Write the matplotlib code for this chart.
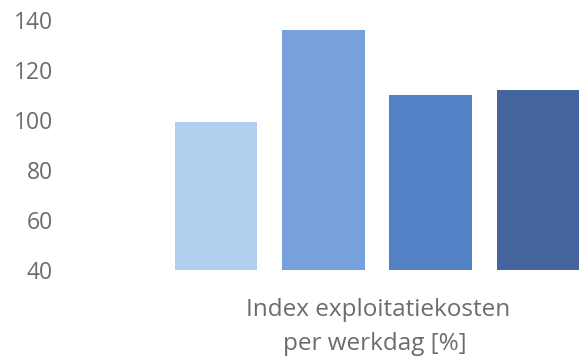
import matplotlib
matplotlib.use("Agg")
import matplotlib.pyplot as plt

categories = ["A", "B", "C", "D"]
values = [99, 136, 110, 112]
colors = ["#b3cff0", "#77a0dc", "#5381c6", "#44659e"]
yticks = [40, 60, 80, 100, 120, 140]
xlabel_lines = ["Index exploitatiekosten", "per werkdag [%]"]

W, H = 582, 361
fig = plt.figure(figsize=(W / 100, H / 100), dpi=100)
ax = fig.add_axes([60 / W, 91 / H, (582 - 60) / W, 250 / H])

x = list(range(len(categories)))
ax.bar(x, [v - 40 for v in values], bottom=40, width=0.77, color=colors)
ax.set_xlim(-1.454, 3.41)
ax.set_ylim(40, 140)
ax.set_yticks(yticks)
ax.set_yticklabels([str(t) for t in yticks], fontsize=16.5, color="#6d6b70",
                   family="Open Sans")
ax.tick_params(axis="y", length=0, pad=5)
ax.set_xticks([])
for s in ax.spines.values():
    s.set_visible(False)

fig.text(378 / W, 1 - 316 / H, xlabel_lines[0], ha="center", va="baseline",
         fontsize=17.5, color="#6d6b70", family="Open Sans")
fig.text(375 / W, 1 - 350 / H, xlabel_lines[1], ha="center", va="baseline",
         fontsize=17.5, color="#6d6b70", family="Open Sans")

fig.savefig("out.png", dpi=100)
